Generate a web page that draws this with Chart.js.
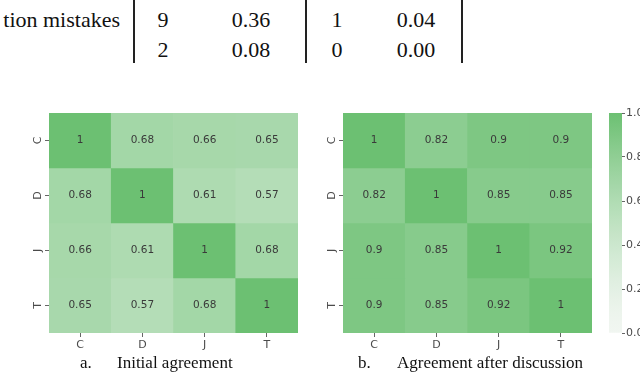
<!DOCTYPE html>
<html>
<head>
<meta charset="utf-8">
<script src="https://cdn.jsdelivr.net/npm/chart.js@4/dist/chart.umd.min.js"></script>
<style>
body{margin:0;width:640px;height:372px;background:#fff;position:relative;overflow:hidden;font-family:"Liberation Serif",serif;color:#111}
canvas{position:absolute}
.t{position:absolute;font-size:22px;line-height:26px;transform:translate(-50%,-50%);white-space:nowrap}
.vl{position:absolute;top:0;height:63px;width:1.5px;background:#222}
.cap{position:absolute;font-size:17px;line-height:18px;top:354px;white-space:nowrap}
</style>
</head>
<body>
<div class="t" style="left:auto;right:520px;transform:translateY(-50%);top:20px">tion mistakes</div>
<div class="vl" style="left:133px"></div>
<div class="vl" style="left:305px"></div>
<div class="vl" style="left:461px"></div>
<div id="tbl"></div>

<canvas id="initial" width="310" height="260" style="left:0;top:100px"></canvas>
<canvas id="after" width="310" height="260" style="left:294px;top:100px"></canvas>
<canvas id="cbar" width="44" height="260" style="left:596px;top:100px"></canvas>

<div class="cap" style="left:80px">a.</div>
<div class="cap" style="left:117px">Initial agreement</div>
<div class="cap" style="left:358px">b.</div>
<div class="cap" style="left:397px">Agreement after discussion</div>

<script>
// table fragment at the top
var tableRows = [
  ['9', '0.36', '1', '0.04'],
  ['2', '0.08', '0', '0.00']
];
var tableColX = [163, 251, 337, 416];
var tableRowY = [20, 50];

// heatmaps
var raters = ['C', 'D', 'J', 'T'];
var initialAgreement = [
  [1, 0.68, 0.66, 0.65],
  [0.68, 1, 0.61, 0.57],
  [0.66, 0.61, 1, 0.68],
  [0.65, 0.57, 0.68, 1]
];
var afterDiscussion = [
  [1, 0.82, 0.9, 0.9],
  [0.82, 1, 0.85, 0.85],
  [0.9, 0.85, 1, 0.92],
  [0.9, 0.85, 0.92, 1]
];
var cbarTicks = [0, 0.2, 0.4, 0.6, 0.8, 1.0];

var tbl = document.getElementById('tbl');
tableRows.forEach(function(row, r) {
  row.forEach(function(txt, c) {
    var d = document.createElement('div');
    d.className = 't';
    d.style.left = tableColX[c] + 'px';
    d.style.top = tableRowY[r] + 'px';
    d.textContent = txt;
    tbl.appendChild(d);
  });
});

function colorFor(v) {
  var lo = [241, 246, 241], hi = [108, 192, 114];
  var t = Math.pow(Math.max(0, Math.min(1, v)), 1.4);
  var c = lo.map(function(a, i) { return Math.round(a + (hi[i] - a) * t); });
  return 'rgb(' + c.join(',') + ')';
}

var tickFont = {family: 'DejaVu Sans', size: 11};
var tickColor = '#4a4a4a';

var cellText = {
  id: 'cellText',
  afterDatasetsDraw: function(chart) {
    var ctx = chart.ctx;
    ctx.save();
    ctx.font = '10.5px "DejaVu Sans"';
    ctx.fillStyle = '#3a3a3a';
    ctx.textAlign = 'center';
    ctx.textBaseline = 'middle';
    chart.data.datasets.forEach(function(ds, i) {
      chart.getDatasetMeta(i).data.forEach(function(bar, j) {
        var p = bar.getProps(['x', 'y', 'base'], true);
        ctx.fillText(String(ds.values[j]), p.x, (p.y + p.base) / 2);
      });
    });
    ctx.restore();
  }
};

function heatmap(id, matrix) {
  new Chart(document.getElementById(id), {
    type: 'bar',
    data: {
      labels: raters,
      datasets: matrix.map(function(row, i) {
        return {
          label: raters[i],
          data: row.map(function() { return 1; }), // one unit per row
          values: row,
          backgroundColor: row.map(colorFor),
          borderWidth: 0,
          barPercentage: 1,
          categoryPercentage: 1
        };
      })
    },
    options: {
      responsive: false,
      animation: false,
      layout: {padding: {top: 13, right: 12, left: 0, bottom: 0}},
      plugins: {legend: {display: false}, tooltip: {enabled: false}},
      scales: {
        x: {
          stacked: true,
          grid: {drawOnChartArea: false, offset: false, tickLength: 4, color: '#666'},
          border: {display: false},
          ticks: {color: tickColor, font: tickFont, padding: 2},
          afterFit: function(s) { s.height = 27; }
        },
        y: {
          stacked: true,
          min: 0,
          max: raters.length,
          reverse: true,
          grid: {drawOnChartArea: false, tickLength: 4, color: '#666'},
          border: {display: false},
          afterBuildTicks: function(s) {
            s.ticks = raters.map(function(r, i) { return {value: i + 0.5}; });
          },
          ticks: {
            color: tickColor, font: tickFont, padding: 3,
            minRotation: 90, maxRotation: 90, crossAlign: 'center',
            callback: function(v) { return raters[Math.floor(v)]; }
          },
          afterFit: function(s) { s.width = 49; }
        }
      }
    },
    plugins: [cellText]
  });
}

heatmap('initial', initialAgreement);
heatmap('after', afterDiscussion);

// colorbar
new Chart(document.getElementById('cbar'), {
  type: 'bar',
  data: {
    labels: [''],
    datasets: [{
      data: [cbarTicks[cbarTicks.length - 1]],
      borderWidth: 0,
      barPercentage: 1,
      categoryPercentage: 1,
      backgroundColor: function(c) {
        var a = c.chart.chartArea;
        if (!a) return colorFor(1);
        var g = c.chart.ctx.createLinearGradient(0, a.bottom, 0, a.top);
        for (var k = 0; k <= 20; k++) g.addColorStop(k / 20, colorFor(k / 20));
        return g;
      }
    }]
  },
  options: {
    responsive: false,
    animation: false,
    layout: {padding: {top: 13, right: 0, left: 13, bottom: 27}},
    plugins: {legend: {display: false}, tooltip: {enabled: false}},
    scales: {
      x: {display: false},
      y: {
        position: 'right',
        min: cbarTicks[0],
        max: cbarTicks[cbarTicks.length - 1],
        afterBuildTicks: function(s) {
          s.ticks = cbarTicks.map(function(v) { return {value: v}; });
        },
        grid: {drawOnChartArea: false, tickLength: 3, color: '#666'},
        border: {display: false},
        ticks: {color: tickColor, font: tickFont, padding: 1,
          callback: function(v) { return v.toFixed(1); }},
        afterFit: function(s) { s.width = 18; }
      }
    }
  }
});
</script>
</body>
</html>
